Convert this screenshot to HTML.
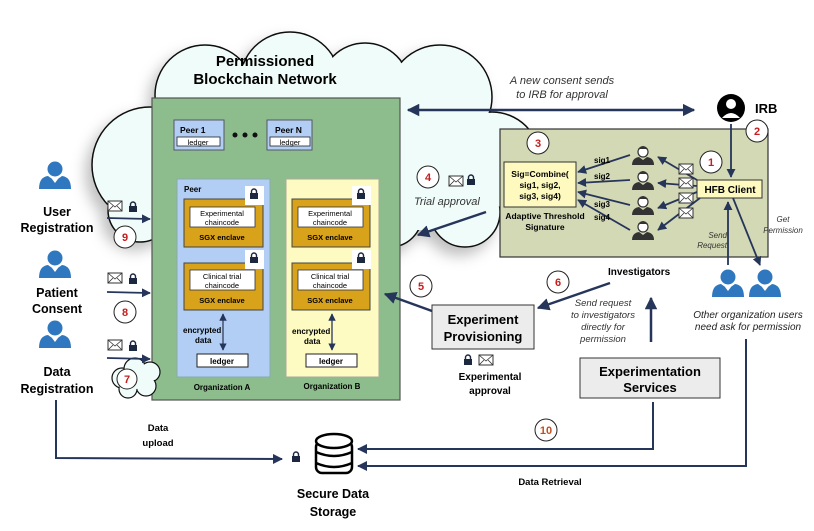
<!DOCTYPE html>
<html><head><meta charset="utf-8"><style>
body{margin:0;background:#fff}
svg text{font-family:"Liberation Sans",Arial,sans-serif}
.b{font-weight:bold}
.i{font-style:italic}
</style></head><body>
<svg width="814" height="526" viewBox="0 0 814 526" xmlns="http://www.w3.org/2000/svg">
<defs>
<marker id="a" viewBox="0 0 10 10" refX="9" refY="5" markerWidth="5" markerHeight="5" orient="auto-start-reverse"><path d="M0,0L10,5L0,10z" fill="#26355a"/></marker>
<filter id="sh" x="-20%" y="-20%" width="140%" height="140%"><feDropShadow dx="-6" dy="8" stdDeviation="7" flood-color="#000" flood-opacity="0.25"/></filter>
<g id="env"><rect x="0" y="0" width="14" height="10" fill="#fff" stroke="#333" stroke-width="1"/><path d="M0,0L7,6L14,0M0,10L5,5M14,10L9,5" fill="none" stroke="#333" stroke-width="0.8"/></g>
<g id="lock"><path d="M1.5,4V2.5a2.5,2.5 0 0 1 5,0V4" fill="none" stroke="#1c2740" stroke-width="1.4"/><rect x="0" y="4" width="8" height="6" fill="#1c2740"/></g>
<g id="user"><circle cx="0" cy="-8" r="7.5" fill="#2f78c0"/><path d="M-16,12Q-16,0 -7,-1L0,4L7,-1Q16,0 16,12z" fill="#2f78c0"/><path d="M-3,2L0,6L3,2" fill="#fff"/></g>
<g id="inv"><circle cx="0" cy="-5" r="5" fill="#fff" stroke="#333" stroke-width="1.2"/><path d="M-5,-8Q0,-14 5,-8" fill="#333"/><path d="M-11,8Q-11,1 -4,0L0,3L4,0Q11,1 11,8z" fill="#333"/></g>
</defs>

<!-- cloud -->
<g filter="url(#sh)">
<g fill="#f0fcf9" stroke="#111" stroke-width="1.5">
<circle cx="150" cy="165" r="58"/><circle cx="205" cy="95" r="50"/><circle cx="290" cy="82" r="50"/><circle cx="365" cy="88" r="45"/><circle cx="440" cy="97" r="52"/><circle cx="492" cy="160" r="48"/><circle cx="465" cy="212" r="35"/><circle cx="390" cy="215" r="32"/><circle cx="195" cy="212" r="38"/><circle cx="140" cy="210" r="32"/>
</g>
<g fill="#f0fcf9">
<circle cx="150" cy="165" r="57"/><circle cx="205" cy="95" r="49"/><circle cx="290" cy="82" r="49"/><circle cx="365" cy="88" r="44"/><circle cx="440" cy="97" r="51"/><circle cx="492" cy="160" r="47"/><circle cx="465" cy="212" r="34"/><circle cx="390" cy="215" r="31"/><circle cx="195" cy="212" r="37"/><circle cx="140" cy="210" r="31"/><circle cx="310" cy="155" r="95"/><rect x="160" y="120" width="320" height="110"/>
</g>
</g>
<text class="b" x="265" y="66" font-size="15" text-anchor="middle">Permissioned</text>
<text class="b" x="265" y="84" font-size="15" text-anchor="middle">Blockchain Network</text>

<!-- green box -->
<rect x="152" y="98" width="248" height="302" fill="#8dbd8d" stroke="#555" stroke-width="1.2"/>
<rect x="174" y="120" width="50" height="30" fill="#b2cef5" stroke="#556" /><text class="b" x="180" y="133" font-size="8.5">Peer 1</text><rect x="177" y="137" width="43" height="9" fill="#fff" stroke="#222" stroke-width=".8"/><text x="198" y="145" font-size="7.5" text-anchor="middle">ledger</text>
<rect x="267" y="120" width="45" height="30" fill="#b2cef5" stroke="#556"/><text class="b" x="275" y="133" font-size="8.5">Peer N</text><rect x="270" y="137" width="40" height="9" fill="#fff" stroke="#222" stroke-width=".8"/><text x="290" y="145" font-size="7.5" text-anchor="middle">ledger</text>
<circle cx="235" cy="135" r="2.5" fill="#111"/><circle cx="245" cy="135" r="2.5" fill="#111"/><circle cx="255" cy="135" r="2.5" fill="#111"/>

<rect x="177" y="179" width="93" height="198" fill="#b2cef5" stroke="#8aa"/>
<rect x="286" y="179" width="93" height="198" fill="#fdfbc2" stroke="#aa9"/>
<text class="b" x="184" y="192" font-size="8">Peer</text>
<g font-size="7.5">
<rect x="184" y="199" width="79" height="48" fill="#d9a21b" stroke="#444"/><rect x="190" y="207" width="65" height="20" fill="#fff" stroke="#333" stroke-width=".8"/><text x="222" y="216" text-anchor="middle">Experimental</text><text x="222" y="225" text-anchor="middle">chaincode</text><text class="b" x="222" y="240" text-anchor="middle">SGX enclave</text>
<rect x="184" y="263" width="79" height="47" fill="#d9a21b" stroke="#444"/><rect x="190" y="270" width="65" height="20" fill="#fff" stroke="#333" stroke-width=".8"/><text x="222" y="279" text-anchor="middle">Clinical trial</text><text x="222" y="288" text-anchor="middle">chaincode</text><text class="b" x="222" y="303" text-anchor="middle">SGX enclave</text>
<rect x="292" y="199" width="78" height="48" fill="#d9a21b" stroke="#444"/><rect x="298" y="207" width="65" height="20" fill="#fff" stroke="#333" stroke-width=".8"/><text x="330" y="216" text-anchor="middle">Experimental</text><text x="330" y="225" text-anchor="middle">chaincode</text><text class="b" x="330" y="240" text-anchor="middle">SGX enclave</text>
<rect x="292" y="263" width="78" height="47" fill="#d9a21b" stroke="#444"/><rect x="298" y="270" width="65" height="20" fill="#fff" stroke="#333" stroke-width=".8"/><text x="330" y="279" text-anchor="middle">Clinical trial</text><text x="330" y="288" text-anchor="middle">chaincode</text><text class="b" x="330" y="303" text-anchor="middle">SGX enclave</text>
</g>
<g fill="#fff"><rect x="245" y="186" width="19" height="19"/><rect x="245" y="250" width="19" height="19"/><rect x="352" y="186" width="19" height="19"/><rect x="352" y="250" width="19" height="19"/></g>
<use href="#lock" x="250" y="189"/><use href="#lock" x="250" y="253"/><use href="#lock" x="357" y="189"/><use href="#lock" x="357" y="253"/>
<line x1="223" y1="314" x2="223" y2="350" stroke="#44506e" stroke-width="1.5" marker-start="url(#a)" marker-end="url(#a)"/>
<line x1="332" y1="314" x2="332" y2="350" stroke="#44506e" stroke-width="1.5" marker-start="url(#a)" marker-end="url(#a)"/>
<text class="b" x="183" y="333" font-size="8">encrypted</text><text class="b" x="195" y="343" font-size="8">data</text>
<text class="b" x="292" y="334" font-size="8">encrypted</text><text class="b" x="304" y="344" font-size="8">data</text>
<rect x="197" y="354" width="51" height="13" fill="#fff" stroke="#222"/><text class="b" x="222" y="364" font-size="8" text-anchor="middle">ledger</text>
<rect x="306" y="354" width="51" height="13" fill="#fff" stroke="#222"/><text class="b" x="331" y="364" font-size="8" text-anchor="middle">ledger</text>
<text class="b" x="222" y="390" font-size="8" text-anchor="middle">Organization A</text>
<text class="b" x="332" y="389" font-size="8" text-anchor="middle">Organization B</text>

<!-- IRB -->
<line x1="408" y1="110" x2="694" y2="110" stroke="#26355a" stroke-width="2.5" marker-start="url(#a)" marker-end="url(#a)"/>
<text class="i" x="562" y="84" font-size="11" text-anchor="middle" fill="#333">A new consent sends</text>
<text class="i" x="562" y="98" font-size="11" text-anchor="middle" fill="#333">to IRB for approval</text>
<circle cx="731" cy="108" r="14" fill="#000"/><circle cx="731" cy="104" r="5" fill="#fff"/><path d="M722,118Q731,108 740,118z" fill="#fff"/>
<text x="755" y="113" font-size="13" class="b">IRB</text>

<!-- signature box -->
<rect x="500" y="129" width="268" height="128" fill="#d3d8b5" stroke="#333" stroke-width="1.2"/>
<rect x="504" y="162" width="72" height="45" fill="#fdf9bf" stroke="#333"/>
<g class="b" font-size="8.5" text-anchor="middle"><text x="540" y="177">Sig=Combine(</text><text x="540" y="188">sig1, sig2,</text><text x="540" y="199">sig3, sig4)</text></g>
<text class="b" x="545" y="219" font-size="8.5" text-anchor="middle">Adaptive Threshold</text><text class="b" x="545" y="230" font-size="8.5" text-anchor="middle">Signature</text>
<rect x="697" y="180" width="65" height="18" fill="#fdf9bf" stroke="#333"/><text class="b" x="730" y="193" font-size="10" text-anchor="middle">HFB Client</text>
<use href="#inv" x="643" y="157"/><use href="#inv" x="643" y="182"/><use href="#inv" x="643" y="207"/><use href="#inv" x="643" y="232"/>
<g stroke="#26355a" stroke-width="1.8" marker-end="url(#a)">
<line x1="630" y1="155" x2="578" y2="172"/><line x1="630" y1="180" x2="578" y2="183"/><line x1="630" y1="205" x2="578" y2="192"/><line x1="630" y1="230" x2="578" y2="200"/>
<line x1="697" y1="180" x2="658" y2="157"/><line x1="697" y1="186" x2="658" y2="183"/><line x1="697" y1="192" x2="658" y2="208"/><line x1="700" y1="198" x2="658" y2="230"/>
</g>
<g class="b" font-size="8"><text x="594" y="163">sig1</text><text x="594" y="179">sig2</text><text x="594" y="207">sig3</text><text x="594" y="220">sig4</text></g>
<use href="#env" x="679" y="164"/><use href="#env" x="679" y="178"/><use href="#env" x="679" y="193"/><use href="#env" x="679" y="208"/>
<text class="i" x="727" y="238" font-size="8" text-anchor="end" fill="#333">Send</text><text class="i" x="727" y="248" font-size="8" text-anchor="end" fill="#333">Request</text>
<text class="i" x="783" y="222" font-size="8" text-anchor="middle" fill="#333">Get</text><text class="i" x="783" y="233" font-size="8" text-anchor="middle" fill="#333">Permission</text>
<line x1="731" y1="124" x2="731" y2="177" stroke="#26355a" stroke-width="1.8" marker-end="url(#a)"/>
<line x1="728" y1="265" x2="728" y2="202" stroke="#26355a" stroke-width="1.8" marker-end="url(#a)"/>
<line x1="733" y1="198" x2="760" y2="265" stroke="#26355a" stroke-width="1.8" marker-end="url(#a)"/>
<use href="#user" x="728" y="285"/><use href="#user" x="765" y="285"/>
<text class="i" x="748" y="318" font-size="10" text-anchor="middle" fill="#222">Other  organization  users</text>
<text class="i" x="748" y="330" font-size="10" text-anchor="middle" fill="#222">need ask for permission</text>

<!-- numbers -->
<g font-size="11" class="b" text-anchor="middle" fill="#c41e1e">
<circle cx="711" cy="162" r="11" fill="#fff" stroke="#222"/><text x="711" y="166" fill="#c41e1e">1</text>
<circle cx="757" cy="131" r="11" fill="#fff" stroke="#222"/><text x="757" y="135" fill="#c41e1e">2</text>
<circle cx="538" cy="143" r="11" fill="#fff" stroke="#222"/><text x="538" y="147" fill="#c41e1e">3</text>
<circle cx="428" cy="177" r="11" fill="#fff" stroke="#222"/><text x="428" y="181" fill="#c41e1e">4</text>
<circle cx="421" cy="286" r="11" fill="#fff" stroke="#222"/><text x="421" y="290" fill="#c41e1e">5</text>
<circle cx="558" cy="282" r="11" fill="#fff" stroke="#222"/><text x="558" y="286" fill="#c41e1e">6</text>
<circle cx="125" cy="237" r="11" fill="#fff" stroke="#222"/><text x="125" y="241" fill="#c41e1e">9</text>
<circle cx="125" cy="312" r="11" fill="#fff" stroke="#222"/><text x="125" y="316" fill="#c41e1e">8</text>
<circle cx="546" cy="430" r="11" fill="#fff" stroke="#222"/><text x="546" y="434" fill="#c0501e">10</text>
</g>

<!-- trial approval -->
<use href="#env" x="449" y="176"/><use href="#lock" x="467" y="175"/>
<text class="i" x="414" y="205" font-size="11" fill="#333">Trial approval</text>
<line x1="486" y1="212" x2="418" y2="235" stroke="#26355a" stroke-width="2.5" marker-end="url(#a)"/>

<!-- investigators -->
<text class="b" x="608" y="275" font-size="10">Investigators</text>
<line x1="610" y1="283" x2="538" y2="308" stroke="#26355a" stroke-width="2.5" marker-end="url(#a)"/>
<g class="i" font-size="9.5" fill="#333" text-anchor="middle"><text x="603" y="306">Send request</text><text x="603" y="318">to investigators</text><text x="603" y="330">directly for</text><text x="603" y="342">permission</text></g>
<line x1="651" y1="342" x2="651" y2="298" stroke="#26355a" stroke-width="2.5" marker-end="url(#a)"/>
<rect x="432" y="305" width="102" height="44" fill="#ececec" stroke="#333"/>
<text class="b" x="483" y="324" font-size="13" text-anchor="middle">Experiment</text><text class="b" x="483" y="341" font-size="13" text-anchor="middle">Provisioning</text>
<line x1="432" y1="311" x2="385" y2="294" stroke="#26355a" stroke-width="2.5" marker-end="url(#a)"/>
<use href="#lock" x="464" y="355"/><use href="#env" x="479" y="355"/>
<text class="b" x="490" y="380" font-size="10" text-anchor="middle">Experimental</text><text class="b" x="490" y="394" font-size="10" text-anchor="middle">approval</text>
<rect x="580" y="358" width="140" height="40" fill="#ececec" stroke="#333"/>
<text class="b" x="650" y="376" font-size="13" text-anchor="middle">Experimentation</text><text class="b" x="650" y="392" font-size="13" text-anchor="middle">Services</text>

<!-- left users -->
<use href="#user" x="55" y="177"/><use href="#user" x="55" y="266"/><use href="#user" x="55" y="336"/>
<g class="b" font-size="12.5" text-anchor="middle"><text x="57" y="216">User</text><text x="57" y="232">Registration</text><text x="57" y="297">Patient</text><text x="57" y="313">Consent</text><text x="57" y="376">Data</text><text x="57" y="393">Registration</text></g>
<!-- small cloud 7 -->
<g fill="#f0fcf9" stroke="#111" stroke-width="1.2"><circle cx="122" cy="378" r="10"/><circle cx="135" cy="369" r="11"/><circle cx="150" cy="372" r="10"/><circle cx="146" cy="386" r="10"/><circle cx="128" cy="389" r="9"/></g>
<g fill="#f0fcf9"><circle cx="122" cy="378" r="9"/><circle cx="135" cy="369" r="10"/><circle cx="150" cy="372" r="9"/><circle cx="146" cy="386" r="9"/><circle cx="128" cy="389" r="8"/><circle cx="136" cy="379" r="10"/></g>
<circle cx="127" cy="379" r="10" fill="#fff" stroke="#222"/><text class="b" x="127" y="383" font-size="11" text-anchor="middle" fill="#c41e1e">7</text>
<use href="#env" x="108" y="201"/><use href="#lock" x="129" y="202"/>
<use href="#env" x="108" y="273"/><use href="#lock" x="129" y="274"/>
<use href="#env" x="108" y="340"/><use href="#lock" x="129" y="341"/>
<g stroke="#26355a" stroke-width="1.8" marker-end="url(#a)"><line x1="107" y1="218" x2="150" y2="219"/><line x1="107" y1="292" x2="150" y2="293"/><line x1="107" y1="358" x2="150" y2="359"/></g>

<!-- bottom -->
<polyline points="56,400 56,458 282,459" fill="none" stroke="#26355a" stroke-width="2" marker-end="url(#a)"/>
<text class="b" x="158" y="431" font-size="9.5" text-anchor="middle">Data</text><text class="b" x="158" y="446" font-size="9.5" text-anchor="middle">upload</text>
<polyline points="653,402 653,449 358,449" fill="none" stroke="#26355a" stroke-width="2" marker-end="url(#a)"/>
<polyline points="746,339 746,466 358,466" fill="none" stroke="#26355a" stroke-width="2" marker-end="url(#a)"/>
<text class="b" x="550" y="485" font-size="9.5" text-anchor="middle">Data Retrieval</text>
<use href="#lock" x="292" y="452"/>
<g fill="#fff" stroke="#000" stroke-width="2.5"><rect x="316" y="441" width="36" height="32" rx="6"/><ellipse cx="334" cy="441" rx="18" ry="7"/><path d="M316,452Q334,460 352,452M316,463Q334,471 352,463" fill="none"/></g>
<g class="b" font-size="12.5" text-anchor="middle"><text x="333" y="498">Secure Data</text><text x="333" y="516">Storage</text></g>
</svg>
</body></html>
